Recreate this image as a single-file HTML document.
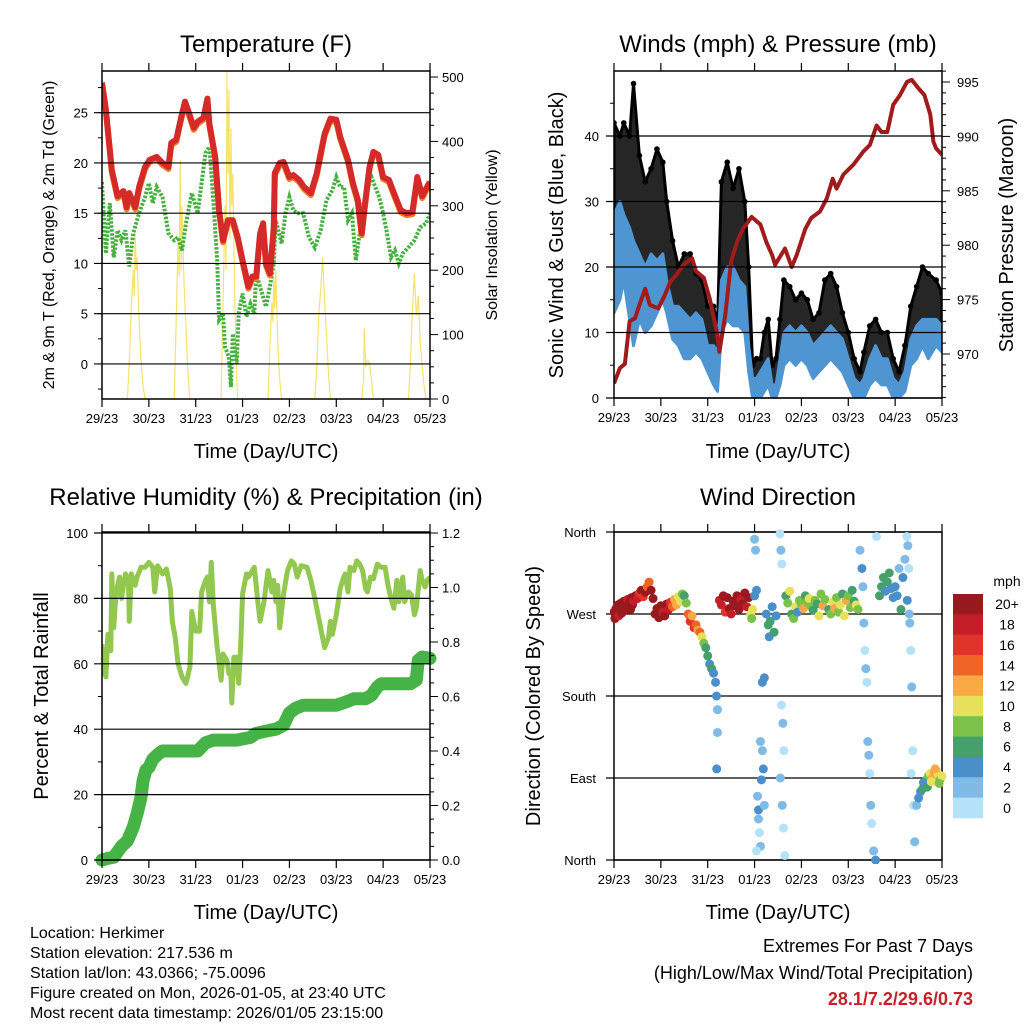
<!DOCTYPE html>
<html><head><meta charset="utf-8"><title>Weather station plots</title>
<style>
html,body{margin:0;padding:0;background:#fff;}
svg{display:block;font-family:"Liberation Sans",Arial,sans-serif;}
</style></head>
<body>
<svg id="fig" width="1024" height="1024" viewBox="0 0 1024 1024" xmlns="http://www.w3.org/2000/svg">
<defs>
<clipPath id="c1"><rect x="102" y="71" width="328" height="328"/></clipPath>
<clipPath id="c2"><rect x="614" y="71" width="328" height="327"/></clipPath>
<clipPath id="c3"><rect x="102" y="532" width="328" height="328"/></clipPath>
<clipPath id="c4"><rect x="610" y="528" width="336" height="336"/></clipPath>
</defs>
<g id="g1"></g>
<g id="g2"></g>
<g id="g3"></g>
<g id="g4"></g>
<g id="gt">
<text x="266" y="52" font-size="24" text-anchor="middle">Temperature (F)</text>
<text x="778" y="52" font-size="24" text-anchor="middle">Winds (mph) &amp; Pressure (mb)</text>
<text x="266" y="505" font-size="24" text-anchor="middle">Relative Humidity (%) &amp; Precipitation (in)</text>
<text x="778" y="505" font-size="24" text-anchor="middle">Wind Direction</text>
<text x="266" y="458" font-size="20" text-anchor="middle">Time (Day/UTC)</text>
<text x="778" y="458" font-size="20" text-anchor="middle">Time (Day/UTC)</text>
<text x="266" y="919" font-size="20" text-anchor="middle">Time (Day/UTC)</text>
<text x="778" y="919" font-size="20" text-anchor="middle">Time (Day/UTC)</text>
<text transform="translate(54,235) rotate(-90)" font-size="16" text-anchor="middle">2m &amp; 9m T (Red, Orange) &amp; 2m Td (Green)</text>
<text transform="translate(497,235) rotate(-90)" font-size="16" text-anchor="middle">Solar Insolation (Yellow)</text>
<text transform="translate(563,235) rotate(-90)" font-size="20" text-anchor="middle">Sonic Wind &amp; Gust (Blue, Black)</text>
<text transform="translate(1013,235) rotate(-90)" font-size="20" text-anchor="middle">Station Pressure (Maroon)</text>
<text transform="translate(48,696) rotate(-90)" font-size="20" text-anchor="middle">Percent &amp; Total Rainfall</text>
<text transform="translate(540,696) rotate(-90)" font-size="20" text-anchor="middle">Direction (Colored By Speed)</text>
<g font-size="16">
<text x="30" y="938">Location: Herkimer</text>
<text x="30" y="958">Station elevation: 217.536 m</text>
<text x="30" y="978">Station lat/lon: 43.0366; -75.0096</text>
<text x="30" y="998">Figure created on Mon, 2026-01-05, at 23:40 UTC</text>
<text x="30" y="1018">Most recent data timestamp: 2026/01/05 23:15:00</text>
</g>
<text x="973" y="952" font-size="18" text-anchor="end">Extremes For Past 7 Days</text>
<text x="973" y="979" font-size="18" text-anchor="end">(High/Low/Max Wind/Total Precipitation)</text>
<text x="973" y="1005" font-size="18" font-weight="bold" fill="#c8202a" text-anchor="end">28.1/7.2/29.6/0.73</text>
</g>
</svg>
<script>
const dayLabels = ["29/23","30/23","31/23","01/23","02/23","03/23","04/23","05/23"];
const tempHours = [0,2,5,8,11,12.6,14,17,19,22,24.4,28,31,34,35.5,38,41,42.5,44,47,49,52,54,55,58,60,62,64.5,67,69.5,72,75,77,79,81,82.5,84,86,88,88.5,91,93,96,98,101,103.5,107,110,114,117,120,122,126,128.5,131,133,134.5,137,139,141.5,144,147,149.5,153,156,159,161.5,164,167,168];
const tempVals = [28.0,25.3,19.3,16.7,17.2,15.6,17,15.6,17.6,19.6,20.3,20.6,20,19.6,22,22.3,24.9,26.1,25.3,23.5,24.1,24.5,26.4,23.9,20.6,15.3,12.3,14.3,14.3,12.6,10.3,7.7,8.7,8.7,13,14,10,9,13.6,19,20,20.1,18.6,18.8,18.3,17.6,17,19,22.9,24.4,24.3,22.6,20.3,18,16.3,13,15.6,19.6,21.1,20.8,18.6,18.3,17,15.3,15,15.1,18.6,16.7,17.8,18.1];
const dewHours = [0,1,2,4,6,8,10,12,14,16,19,22,24,26,28,31,34,37,39,41,43,46,49,51,53,55,57,59,60,62,63,65,66,67,69,70,72,74,76,78,79,82,84,86,88,89,92,94,96,98,100,103,106,109,112,115,118,120,122,124,126,128,130,132,134,136,138,140,142,144,146,148,150,152,154,157,160,163,166,168];
const dewVals = [18.1,14.3,11,16,10.6,13.3,12.3,13.3,9.7,13,15,16.6,18,16,17.6,16.6,13,12.3,12.6,11.3,14,17,15,18,21,21.6,16.3,10.3,4.4,5,1.7,0.7,-2.3,3,0,5,7,4.7,6,5,9,7,5.7,7.7,10,14.3,12,15,16.6,15.3,15,15,12.6,11.6,13.3,16.3,17.3,18.6,17.6,17.6,14.3,15,10.3,13,16,17.3,18.6,17.6,16.6,15,13,10.6,11.3,10,11,11.6,12.3,13.6,14,15];
const solarHours = [0,13,14,15,16,16.5,17,17.5,18,19,20,21,22,37,38,39,39.5,40,40.5,41,42,43,44,45,61,62,63,63.5,64,64.5,65,65.5,66,66.5,67,68,69,69.5,85,86,87,87.5,88,88.5,89,90,91,92,109,110,111,112,113,114,115,116,117,133,134,134.3,135,136,137,138,139,157,158,159,160,161,162,163,164,165,166,168];
const solarVals = [0,0,60,140,200,160,258,200,220,120,60,20,0,0,120,250,190,371,200,300,180,110,40,0,0,150,300,200,508,350,480,250,420,300,350,150,30,0,0,80,150,120,190,140,200,90,30,0,0,50,130,170,220,150,100,40,0,0,30,110,50,60,55,30,0,0,60,140,195,130,160,90,50,20,0,0];
const windHours = [0,3,5,8,10,13,16,19,22,25,27,30,33,36,39,42,45,48,51,53,55,58,61,64,67,69,71,73,75,77,79,81,83,85,87,90,93,96,99,102,105,108,111,114,117,120,123,126,128,131,134,137,140,143,146,149,152,155,158,161,165,168];
const windLo = [13,15,18,12,8,12,10,11,13,15,13,9,8,6,6,7,6,4,2,1,10,12,11,11,10,4,0,0,0,1,2,0,0,2,5,6,5,6,5,3,4,5,6,5,4,2,0,0,0,2,3,2,2,0,0,1,5,6,8,6,8,7];
const windHi = [28,30,28,26,24,22,20,22,21,22,18,14,14,13,12,13,12,8,8,7,18,20,20,18,17,8,3,3,4,5,6,2,2,6,10,11,10,11,10,8,9,10,11,10,9,6,3,2,3,6,8,6,6,3,2,4,9,11,12,12,12,11];
const gustHi = [42,40,42,40,48,37,33,35,38,36,30,24,20,22,22,19,18,14,14,11,33,36,32,35,30,20,5,6,6,10,12,5,6,12,18,17,15,16,15,12,13,18,19,17,13,10,6,4,7,11,12,10,10,6,4,8,14,17,20,19,18,16];
const presHours = [0,3,5.6,8,10.8,13,16,18.4,22.7,26,28.7,32,35.5,40,42,46,49,52.6,54,57,60,63,66,70.5,75,78,81,82.5,87.6,91,93.6,98,101,105.5,109,112,114,117.5,122.6,127.7,131,134.5,137,140,143,146.5,150,152.5,156,159,162,163.6,165,168];
const presVals = [967.3,968.7,969.1,973,973.3,974.5,976,974.5,974.2,975.4,976.6,977.3,978.2,978.8,977.6,977,975.1,972.1,970.2,973.6,978.5,980.3,981.5,982.6,981.9,980.3,979.1,978.2,979.7,978,979.1,981.5,982.5,983.1,984.3,986.1,985.2,986.5,987.4,988.6,989.2,991,990.4,990.4,992.9,993.8,995,995.2,994.4,993.8,992,989.5,988.9,988.3];
const rhHours = [0,0.5,1.5,2,3,4.5,5,6,7,8,9,10,11,12,13.5,14,15,17,18,20,22,24,26,27,28.5,31,33,35,36,37.5,39,41,43,45,46,48,50,51,53,54,55,56,57,59,61,62,64,65,66,66.5,67.5,69,70,71,72,74,75,77,78,80,81,83,85,87,88,89,90,91,93,95,97,98.5,100,102,105,107,109,111,113,114,116,117,118,120,122,123.5,124.5,126,127,129,130.5,132,133.5,135,136,137.5,139,141,143,145,146.5,148,149.5,151,152,154,155,157,158.5,160,161,163,164,165.5,166.5,168];
const rhVals = [66,57,63,56,69,64,87.5,71,80,84,86.5,80,84,87.5,86,73,87.5,84,86.5,89.5,89.5,91,89.5,82,90,87.5,89,83,73,68,60,56,54,59,76,70,70,82,85.5,86.5,79,91,78,65,55,63,61,57,57,48,62,62,54,65,81.5,87.5,86.5,88.5,89.5,78,73,79,88.5,82,85.5,79,84,71,81.5,88.5,91.5,90.5,86.5,90,89.5,85.5,80,74,68,65,68,73,69,75,83,86,87.5,82,89.5,88.5,91.5,90.5,88.5,83,82,86.5,86,90.5,89.5,89.5,84,80,77,85.5,79,86.5,79,82,81,75,77,88.5,85.5,83.5,85.5,86.5];
const prHours = [0,3,6,10,13,16,18,20,21,22.5,24,26,29,31,40,49,53,57,69,76,79,86,89,93,96,99,103,120,125,129,135,138,141,143,158,161,162,164,168];
const prVals = [0,0.006,0.01,0.05,0.07,0.12,0.17,0.23,0.29,0.33,0.34,0.37,0.39,0.40,0.40,0.40,0.43,0.44,0.44,0.45,0.465,0.476,0.48,0.495,0.54,0.556,0.568,0.568,0.58,0.592,0.592,0.604,0.635,0.647,0.647,0.66,0.733,0.745,0.74];
const dirHours = [0,0.5,1,1.5,2,2.5,3,3.5,4,4.5,5,5.5,6,6.5,7,7.5,8,8.5,9,9.5,10,11,12,13,14,15,16,17,18,19,20,
21,22,23,24,25,26,27,28,29,30,
31,32,33,34,35,36,37,
38,39,40,41,42,43,44,
45,46,47,48,49,50,51,52,52.5,53,53,52.6,
54,55,56,57,58,59,60,61,62,63,64,65,66,67,68,69,70,
70.5,71,72,72.5,73,73.5,74,74.5,75,75.5,76,76.5,77,72,73,74,75,76,77,
78,79,79.5,80,81,82,83,
85,85.5,86,86.5,87,85.2,86.2,86.8,87.5,85.8,
88,89,90,91,92,93,94,95,96,97,98,99,100,101,102,103,104,105,106,107,108,110,111,112,113,114,115,116,117,118,119,120,121,122,123,124,125,
126,127,127.5,128,128.5,129,129.5,130,130.5,131,131.5,132,133,134,134.5,
136,137,138,139,140,141,142,143,
144,145,146,147,148,149,150,150.5,151,151.5,152,152.5,153,153.5,154,150.2,151.2,152.2,
155,156,157,158,159,160,161,162,163,164,165,166,167,168,158.5,160.5,162.5,164.5,166.5];
const dirDeg = [272,265,276,270,280,268,275,282,271,279,284,274,281,277,286,279,283,275,288,280,284,290,287,293,296,289,294,300,305,296,287,
270,276,266,279,272,268,281,275,283,278,
286,280,289,284,292,290,282,
270,262,268,255,258,252,250,
245,238,233,224,215,210,205,195,180,165,140,100,
285,280,290,272,288,276,270,284,279,290,275,286,281,293,278,288,270,
265,275,352,340,296,70,55,30,15,88,120,100,200,290,10,45,130,195,60,
270,258,245,262,278,250,268,
358,340,325,150,120,90,60,35,5,170,
290,282,295,270,265,278,272,285,280,276,290,283,287,278,274,285,281,268,292,279,286,275,270,283,276,288,272,280,292,268,285,290,277,296,284,280,275,
340,320,300,260,230,210,195,130,115,95,60,40,10,0,355,
290,300,310,295,305,315,298,288,
300,290,320,275,310,330,355,345,320,260,230,190,120,60,20,285,270,95,
60,68,75,78,82,88,92,95,90,96,98,94,88,92,85,80,86,100,84];
const dirSpeed = [21,20,22,21,20,19,22,21,20,23,21,20,22,21,19,21,22,20,21,20,18,21,19,17,20,16,21,15,14,20,21,
21,22,20,21,19,22,21,18,16,15,
12,13,10,11,8,7,9,
14,16,13,17,14,12,15,
10,8,7,6,5,7,4,5,4,3,3,4,
19,18,21,17,20,21,19,22,20,21,20,18,21,20,19,22,10,
9,11,2,3,5,3,4,1,2,4,3,4,5,5,1,2,3,4,2,
5,6,4,7,5,6,4,
1,2,1,2,1,3,2,1,1,0.5,
7,9,11,6,8,10,5,8,9,12,7,8,10,9,6,8,7,11,9,12,8,7,9,10,13,8,9,11,7,10,12,8,9,6,7,10,9,
3,4,2,3,1,2,1,3,2,1,2,1,3,4,1,
6,7,6,5,7,6,4,5,
4,5,3,6,4,3,1,2,1,2,1,2,1,1,2,4,3,1,
3,4,5,6,7,8,9,11,12,13,12,10,9,11,5,7,10,13,8];
const speedLabels = ["0","2","4","6","8","10","12","14","16","18","20+"];
const speedColors = ["#b5e2f8","#7fbbe6","#4a8fc9","#45a06c","#7cc24a","#e6e05a","#f8a845","#f06428","#e0342b","#c51e29","#981a1e"];
const tempTicks = [0,5,10,15,20,25];
const solarTicks = [0,100,200,300,400,500];
const windTicks = [0,10,20,30,40];
const presTicks = [970,975,980,985,990,995];
const rhTicks = [0,20,40,60,80,100];
const prTicks = ["0.0","0.2","0.4","0.6","0.8","1.0","1.2"];
const dirTickDeg = [360,270,180,90,0];
const dirTickLabels = ["North","West","South","East","North"];

const NS="http://www.w3.org/2000/svg";
function mk(tag, parent, attrs){const e=document.createElementNS(NS,tag);for(const k in attrs)e.setAttribute(k,attrs[k]);parent.appendChild(e);return e;}
const xL = h => 102 + h*328/168;
const xR = h => 614 + h*328/168;
const yTemp = v => 112.7 - (v-25)*10.05;
const ySol = v => 399 - v*0.644;
const yWind = v => 398 - v*6.55;
const yPres = v => 82 + (995-v)*10.88;
const yRH = v => 860 - v*3.27;
const yPr = v => 860 - v*272.5;
const yDir = v => 860 - v*328/360;
function pts(xs, ys, fx, fy){return xs.map((h,i)=>fx(h).toFixed(1)+","+fy(ys[i]).toFixed(1)).join(" ");}

function frame(g, x0, y0, x1, y1, gridYs, leftTicks, rightTicks){
  for(const y of gridYs){
    const l=mk('line',g,{x1:x0-8,y1:y,x2:x1,y2:y,stroke:'#000','stroke-width':1.2});
    
    
  }
  for(let d=0; d<=7; d++){
    const x = x0 + d*(x1-x0)/7;
    mk('line',g,{x1:x,y1:y0,x2:x,y2:y0-8,stroke:'#000','stroke-width':1.2});
    mk('line',g,{x1:x,y1:y1,x2:x,y2:y1+8,stroke:'#000','stroke-width':1.2});
    const t=mk('text',g,{x:x,y:y1+24,'font-size':13,'text-anchor':'middle'});
    t.textContent = dayLabels[d];
    
    
  }
  for(const y of leftTicks) mk('line',g,{x1:x0-4,y1:y,x2:x0,y2:y,stroke:'#000','stroke-width':1});
  for(const [y,len] of rightTicks) mk('line',g,{x1:x1,y1:y,x2:x1+len,y2:y,stroke:'#000','stroke-width':1});
  const r=mk('rect',g,{x:x0,y:y0,width:x1-x0,height:y1-y0,fill:'none',stroke:'#000','stroke-width':1.5});
  
  
}
function label(g, x, y, s, anchor, name){
  const t=mk('text',g,{x:x,y:y+5,'font-size':13,'text-anchor':anchor});
  t.textContent=s;
  
  
}

(function(){
  const g=document.getElementById('g1');
  const m=mk('g',g,{'clip-path':'url(#c1)'});
  const sol=mk('polyline',m,{points:pts(solarHours,solarVals,xL,ySol),fill:'none',stroke:'#f7e26b','stroke-width':1.2});
  
  
  const dew=mk('polyline',m,{points:pts(dewHours,dewVals,xL,yTemp),fill:'none',stroke:'#46b040','stroke-width':4,'stroke-dasharray':'2.5 1.5'});
  
  
  const or=mk('polyline',m,{points:pts(tempHours,tempVals,xL,yTemp),fill:'none',stroke:'#f07f2a','stroke-width':6,'stroke-linejoin':'round',transform:'translate(0,2)'});
  
  
  const red=mk('polyline',m,{points:pts(tempHours,tempVals,xL,yTemp),fill:'none',stroke:'#d42a2a','stroke-width':6,'stroke-linejoin':'round'});
  
  
  const lt=[]; for(let v=-2.5; v<=28; v+=2.5) lt.push(yTemp(v));
  const rt=[]; for(let v=0; v<=500; v+=25) rt.push([ySol(v), v%100===0?8:4]);
  frame(g,102,71,430,399,tempTicks.map(yTemp),lt,rt);
  tempTicks.forEach(v=>label(g,88,yTemp(v),String(v),'end','temperature-tick-label'));
  solarTicks.forEach(v=>label(g,442,ySol(v),String(v),'start','solar-tick-label'));
})();

(function(){
  const g=document.getElementById('g2');
  const m=mk('g',g,{'clip-path':'url(#c2)'});
  const gustPoly = windHours.map((h,i)=>xR(h).toFixed(1)+","+yWind(gustHi[i]).toFixed(1)).join(" ")+" "+
    windHours.slice().reverse().map((h,j)=>{const i=windHours.length-1-j;return xR(h).toFixed(1)+","+yWind(windHi[i]).toFixed(1);}).join(" ");
  const gp=mk('polygon',m,{points:gustPoly,fill:'#000','fill-opacity':0.85,stroke:'#000','stroke-width':3,'stroke-linejoin':'round'});
  
  
  windHours.forEach((h,i)=>{
    const c=mk('circle',m,{cx:xR(h),cy:yWind(gustHi[i]),r:2.8,fill:'#000'});
    
    
  });
  const windPoly = windHours.map((h,i)=>xR(h).toFixed(1)+","+yWind(windHi[i]).toFixed(1)).join(" ")+" "+
    windHours.slice().reverse().map((h,j)=>{const i=windHours.length-1-j;return xR(h).toFixed(1)+","+yWind(windLo[i]).toFixed(1);}).join(" ");
  const wp=mk('polygon',m,{points:windPoly,fill:'#4f95d2',stroke:'#4f95d2','stroke-width':3,'stroke-linejoin':'round'});
  
  
  const pr=mk('polyline',m,{points:pts(presHours,presVals,xR,yPres),fill:'none',stroke:'#a01b1b','stroke-width':4,'stroke-linejoin':'round'});
  
  
  const lt=[]; for(let v=5; v<=50; v+=10) lt.push(yWind(v));
  const rt=[]; for(let v=966; v<=996; v+=1) rt.push([yPres(v), v%5===0?8:4]);
  frame(g,614,71,942,398,windTicks.map(yWind),lt,rt);
  windTicks.forEach(v=>label(g,599,yWind(v),String(v),'end','wind-tick-label'));
  presTicks.forEach(v=>label(g,957,yPres(v),String(v),'start','pressure-tick-label'));
})();

(function(){
  const g=document.getElementById('g3');
  const m=mk('g',g,{'clip-path':'url(#c3)'});
  const rh=mk('polyline',m,{points:pts(rhHours,rhVals,xL,yRH),fill:'none',stroke:'#92c850','stroke-width':5,'stroke-linejoin':'round'});
  
  
  const pc=mk('polyline',g,{points:pts(prHours,prVals,xL,yPr),fill:'none',stroke:'#46b346','stroke-width':13,'stroke-linejoin':'round','stroke-linecap':'round'});
  
  
  const lt=[]; for(let v=10; v<=100; v+=20) lt.push(yRH(v));
  const rt=[]; for(let v=0; v<=1.2001; v+=0.05) rt.push([yPr(v), Math.abs(v*5-Math.round(v*5))<0.01?8:4]);
  frame(g,102,532,430,860,rhTicks.map(yRH),lt,rt);
  rhTicks.forEach(v=>label(g,88,yRH(v),String(v),'end','humidity-tick-label'));
  prTicks.forEach(s=>label(g,442,yPr(parseFloat(s)),s,'start','precip-tick-label'));
})();

(function(){
  const g=document.getElementById('g4');
  frame(g,614,532,942,860,[yDir(270),yDir(180),yDir(90),yDir(360),yDir(0)],[],[]);
  const m=mk('g',g,{'clip-path':'url(#c4)'});
  dirHours.forEach((h,i)=>{
    const s=dirSpeed[i];
    const bin=Math.min(10,Math.floor(s/2));
    const c=mk('circle',m,{cx:xR(h),cy:yDir(dirDeg[i]),r:4.5,fill:speedColors[bin]});
    
    
  });
  dirTickDeg.forEach((d,i)=>label(g,596,yDir(d),dirTickLabels[i],'end','direction-tick-label'));
  const cb=mk('g',g,{});
  
  
  const t=mk('text',cb,{x:1007,y:586,'font-size':14,'text-anchor':'middle'});
  t.textContent='mph';
  const bh=224/11;
  speedColors.forEach((col,i)=>{
    const k=10-i;
    const r=mk('rect',cb,{x:953,y:594+i*bh,width:30,height:bh+0.3,fill:speedColors[k]});
    
    
    const tx=mk('text',cb,{x:1007,y:594+i*bh+bh/2+5,'font-size':14,'text-anchor':'middle'});
    tx.textContent=speedLabels[k];
    
    
  });
})();
</script>
</body></html>
